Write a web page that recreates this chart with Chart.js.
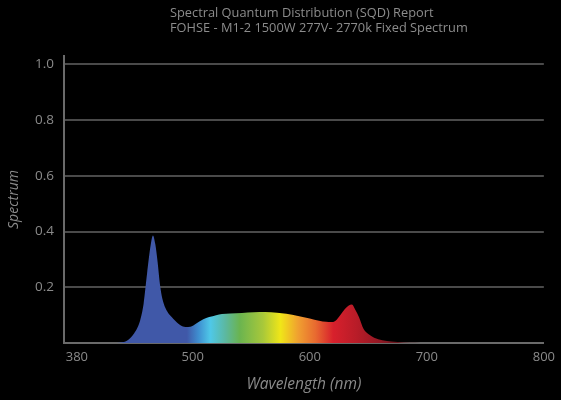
<!DOCTYPE html>
<html>
<head>
<meta charset="utf-8">
<script src="https://cdn.jsdelivr.net/npm/chart.js@4.4.4/dist/chart.umd.min.js"></script>
<style>
  html, body { margin: 0; padding: 0; background: #000; }
  #wrap { width: 561px; height: 400px; }
</style>
</head>
<body>
<div id="wrap"><canvas id="chart"></canvas></div>
<script>
const titleLines = [
  'Spectral Quantum Distribution (SQD) Report',
  'FOHSE - M1-2 1500W 277V- 2770k Fixed Spectrum',
];

// wavelength (nm) / relative spectrum
const wavelengths = [390, 430, 440, 445, 450, 455, 458, 461, 464, 466, 468, 470, 472, 474, 478, 482, 488, 494, 498, 503, 509, 514, 520, 525, 532, 542, 552, 562, 572, 580, 590, 600, 608, 614, 618, 622, 626, 630, 633, 636, 639, 642, 646, 650, 655, 662, 670, 680, 690, 700, 800];
const spectrum = [0, 0, 0.003, 0.012, 0.035, 0.08, 0.14, 0.25, 0.35, 0.386, 0.355, 0.29, 0.21, 0.16, 0.115, 0.093, 0.068, 0.057, 0.058, 0.07, 0.085, 0.093, 0.1, 0.104, 0.106, 0.108, 0.11, 0.111, 0.109, 0.105, 0.097, 0.088, 0.08, 0.076, 0.075, 0.08, 0.1, 0.122, 0.134, 0.138, 0.118, 0.093, 0.05, 0.032, 0.019, 0.01, 0.005, 0.002, 0.001, 0, 0];

const xTickValues = [401, 500, 600, 700, 800];
const xTickLabels = ['380', '500', '600', '700', '800'];
const yTickValues = [0.2, 0.4, 0.6, 0.8, 1.0];

// colour stops along the wavelength axis
const stopWavelengths = [440, 495, 505, 515, 528, 540, 560, 575, 590, 605, 620, 640, 660, 685, 720];
const stopColors = ['#4058a8', '#4058a8', '#3f8fd0', '#4fc8e8', '#5cb8a0', '#6ab450', '#a8c83a', '#f0e618', '#f0a030', '#e86a30', '#d8202c', '#b81c28', '#921824', '#4a1418', '#2a2a2a'];

const textColor = '#8a8a8a';

function spectrumFill(ctx) {
  const chart = ctx.chart;
  const area = chart.chartArea;
  if (!area) return '#4058a8';
  const x = chart.scales.x;
  const x0 = x.getPixelForValue(x.min);
  const x1 = x.getPixelForValue(x.max);
  const g = chart.ctx.createLinearGradient(x0, 0, x1, 0);
  stopWavelengths.forEach((wl, i) => {
    g.addColorStop((wl - x.min) / (x.max - x.min), stopColors[i]);
  });
  return g;
}

const headerPlugin = {
  id: 'header',
  afterDraw(chart) {
    const c = chart.ctx;
    c.save();
    c.fillStyle = '#8c8c8c';
    c.font = '12.8px "Open Sans"';
    c.textBaseline = 'middle';
    c.textAlign = 'left';
    c.fillText(titleLines[0], 170, 13);
    c.fillText(titleLines[1], 170, 28);
    c.restore();
  },
};

const data = {
  datasets: [{
    label: 'Spectrum',
    data: wavelengths.map((wl, i) => ({ x: wl, y: spectrum[i] })),
    fill: 'origin',
    backgroundColor: spectrumFill,
    borderWidth: 0,
    pointRadius: 0,
    cubicInterpolationMode: 'monotone',
  }],
};

const options = {
  responsive: false,
  animation: false,
  layout: { padding: { top: 56, right: 13, left: 0, bottom: 0 } },
  plugins: {
    legend: { display: false },
    tooltip: { enabled: false },
  },
  scales: {
    x: {
      type: 'linear',
      min: 390,
      max: 800,
      afterBuildTicks: scale => { scale.ticks = xTickValues.map(v => ({ value: v })); },
      afterFit: scale => { scale.height = 57; },
      grid: { display: false, drawTicks: false },
      border: { display: true, color: '#6a6a6a', width: 2 },
      ticks: {
        color: textColor,
        font: { family: 'Open Sans', size: 13 },
        padding: 6,
        maxRotation: 0,
        autoSkip: false,
        callback: (v, i) => xTickLabels[i],
      },
      title: {
        display: true,
        text: 'Wavelength (nm)',
        color: textColor,
        font: { family: 'Open Sans', size: 15.5, style: 'italic' },
        padding: { top: 0, bottom: 6 },
      },
    },
    y: {
      min: 0,
      max: 1.03,
      afterBuildTicks: scale => { scale.ticks = yTickValues.map(v => ({ value: v })); },
      afterFit: scale => { scale.width = 64; },
      grid: { color: '#4a4a4a', lineWidth: 2, drawTicks: false },
      border: { display: true, color: '#6a6a6a', width: 2 },
      ticks: {
        color: textColor,
        font: { family: 'Open Sans', size: 13.5 },
        padding: 10,
        callback: v => v.toFixed(1),
      },
      title: {
        display: true,
        text: 'Spectrum',
        color: textColor,
        font: { family: 'Open Sans', size: 14, style: 'italic' },
        padding: { top: 6, bottom: 0 },
      },
    },
  },
};

const canvas = document.getElementById('chart');
canvas.width = 561;
canvas.height = 400;
new Chart(canvas, { type: 'line', data, options, plugins: [headerPlugin] });
</script>
</body>
</html>
